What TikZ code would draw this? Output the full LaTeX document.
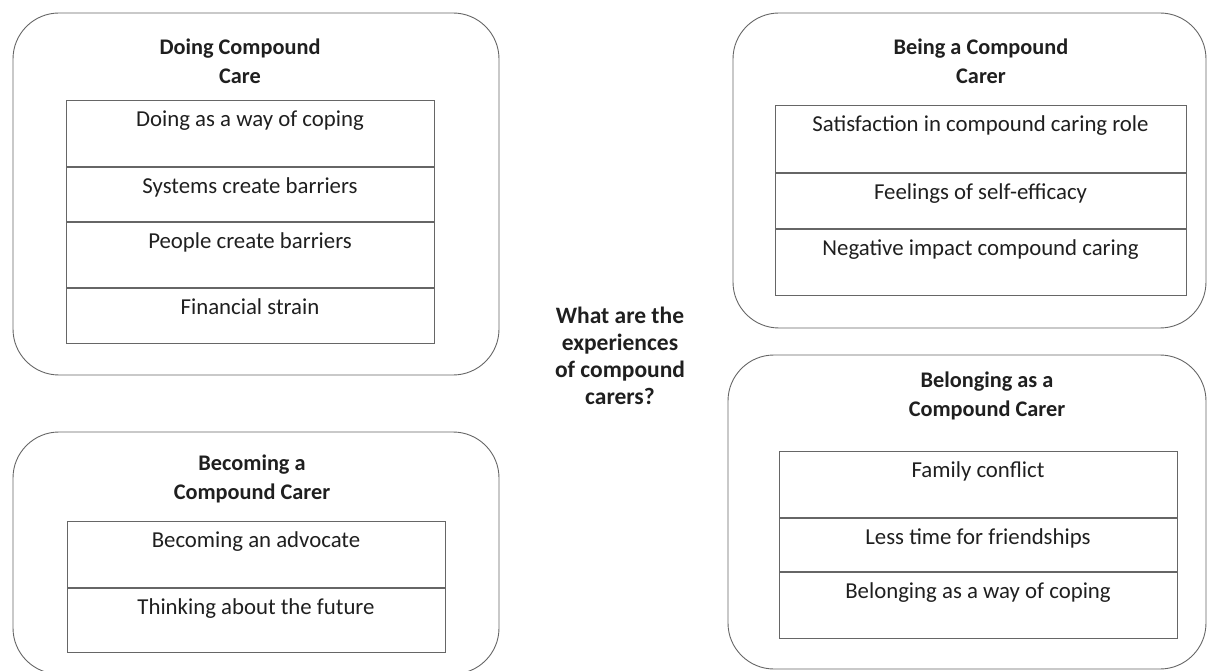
\documentclass[tikz,border=0pt]{standalone}
\usepackage{fontspec}
\setmainfont{Carlito}
\usetikzlibrary{positioning}
\definecolor{lineGray}{gray}{0.4}
\definecolor{txtGray}{gray}{0.12}
\tikzset{
    theme/.style={draw=lineGray, rounded corners=46pt, line width=0.9pt},
    head/.style={font=\fontsize{22.3}{29}\selectfont\bfseries, text=txtGray, align=center},
    cell/.style={draw=lineGray, line width=0.9pt, inner ysep=3pt, text height=23pt,
        text depth=#1, text=txtGray, font=\fontsize{22.8}{26}\selectfont}
}

\begin{document}
\begin{tikzpicture}[x=1pt,y=-1pt]
\useasboundingbox (0,0) rectangle (1208,671);
% outer theme boxes
\node[theme, minimum width=486pt, minimum height=362pt] (doing) at (256,194) {};
\node[theme, minimum width=473pt, minimum height=315pt] (being) at (969.5,170.5) {};
\node[theme, minimum width=486pt, minimum height=242pt] (becoming) at (256,553) {};
\node[theme, minimum width=478pt, minimum height=314pt] (belonging) at (967,512) {};
% titles
\node[head] (doingT) at (240,61) {Doing Compound\\Care};
\node[head] (beingT) at (981,61) {Being a Compound\\Carer};
\node[head] (becomingT) at (252,479) {Becoming a\\Compound Carer};
\node[head] (belongingT) at (987,396) {Belonging as a\\Compound Carer};
\node[head, font=\fontsize{23.5}{27}\selectfont\bfseries] (question) at (620,356)
    {What are the\\experiences\\of compound\\carers?};
% doing
\node[cell=37pt, minimum width=368pt, anchor=north] (doing1) at (250,100) {Doing as a way of coping};
\node[cell=25pt, minimum width=368pt, below=0pt of doing1] (doing2) {Systems create barriers};
\node[cell=36pt, minimum width=368pt, below=0pt of doing2] (doing3) {People create barriers};
\node[cell=26pt, minimum width=368pt, below=0pt of doing3] (doing4) {Financial strain};
% being
\node[cell=38pt, minimum width=411pt, anchor=north] (being1) at (980.5,105) {Satisfaction in compound caring role};
\node[cell=26pt, minimum width=411pt, below=0pt of being1] (being2) {Feelings of self-efficacy};
\node[cell=37pt, minimum width=411pt, below=0pt of being2] (being3) {Negative impact compound caring};
% becoming
\node[cell=37pt, minimum width=378pt, anchor=north] (becoming1) at (256,521) {Becoming an advocate};
\node[cell=35pt, minimum width=378pt, below=0pt of becoming1] (becoming2) {Thinking about the future};
% belonging
\node[cell=37pt, minimum width=398pt, anchor=north] (belonging1) at (978,451) {Family conflict};
\node[cell=24pt, minimum width=398pt, below=0pt of belonging1] (belonging2) {Less time for friendships};
\node[cell=37pt, minimum width=398pt, below=0pt of belonging2] (belonging3) {Belonging as a way of coping};
\end{tikzpicture}
\end{document}
